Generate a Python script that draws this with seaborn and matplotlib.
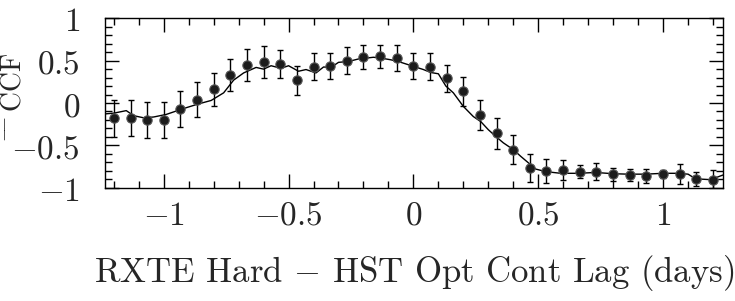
import matplotlib
matplotlib.use("Agg")
import matplotlib.pyplot as plt
from matplotlib.ticker import MultipleLocator, FuncFormatter
import pandas as pd
import seaborn as sns

# CCF points
lag = [-1.200, -1.133, -1.067, -1.000, -0.933, -0.867, -0.800, -0.733, -0.667,
       -0.600, -0.533, -0.467, -0.400, -0.333, -0.267, -0.200, -0.133, -0.067,
       0.000, 0.067, 0.133, 0.200, 0.267, 0.333, 0.400, 0.467, 0.533, 0.600,
       0.667, 0.733, 0.800, 0.867, 0.933, 1.000, 1.067, 1.133, 1.200]
ccf = [-0.18, -0.18, -0.20, -0.20, -0.07, 0.04, 0.16, 0.33, 0.45,
       0.48, 0.46, 0.27, 0.43, 0.44, 0.50, 0.54, 0.55, 0.53,
       0.44, 0.43, 0.29, 0.14, -0.14, -0.36, -0.55, -0.77, -0.80, -0.79,
       -0.81, -0.81, -0.84, -0.85, -0.86, -0.84, -0.84, -0.90, -0.91]
ccf_err = [0.22, 0.215, 0.215, 0.21, 0.21, 0.21, 0.20, 0.19, 0.19,
           0.19, 0.16, 0.17, 0.155, 0.155, 0.16, 0.14, 0.14, 0.15,
           0.155, 0.155, 0.155, 0.17, 0.18, 0.18, 0.175, 0.165, 0.14, 0.115,
           0.075, 0.10, 0.075, 0.075, 0.08, 0.05, 0.12, 0.085, 0.12]

# interpolated curve
line_lag = [-1.24, -1.20, -1.15, -1.12, -1.08, -1.04, -0.99, -0.92, -0.86, -0.81,
            -0.76, -0.72, -0.68, -0.63, -0.60, -0.57, -0.53, -0.50, -0.46, -0.43,
            -0.39, -0.36, -0.33, -0.30, -0.26, -0.22, -0.19, -0.16, -0.13, -0.09,
            -0.05, 0.00, 0.04, 0.07, 0.10, 0.13, 0.16, 0.20, 0.24, 0.27,
            0.30, 0.33, 0.36, 0.40, 0.43, 0.47, 0.49, 0.53, 0.59, 0.66,
            0.73, 0.80, 0.86, 0.93, 1.00, 1.06, 1.10, 1.13, 1.19, 1.24]
line_ccf = [-0.13, -0.12, -0.09, -0.15, -0.175, -0.165, -0.135, -0.065, -0.01, 0.03,
            0.12, 0.27, 0.355, 0.42, 0.40, 0.44, 0.41, 0.44, 0.375, 0.395,
            0.355, 0.425, 0.42, 0.48, 0.49, 0.52, 0.53, 0.54, 0.53, 0.51,
            0.48, 0.433, 0.395, 0.36, 0.345, 0.20, 0.12, -0.04, -0.16, -0.22,
            -0.315, -0.395, -0.47, -0.55, -0.63, -0.73, -0.78, -0.81, -0.83, -0.83,
            -0.82, -0.835, -0.84, -0.84, -0.83, -0.83, -0.84, -0.895, -0.905, -0.85]

pts = pd.DataFrame({"lag": lag, "ccf": ccf, "err": ccf_err})
curve = pd.DataFrame({"lag": line_lag, "ccf": line_ccf})

sns.set_theme(style="ticks")
plt.rcParams["mathtext.fontset"] = "cm"
plt.rcParams["axes.unicode_minus"] = True

fig = plt.figure(figsize=(7.35, 3.01), dpi=100)
ax = fig.add_axes([0.1429, 0.3764, 0.8408, 0.5628])

sns.lineplot(data=curve, x="lag", y="ccf", ax=ax, color="black", lw=1.0,
             sort=False, estimator=None)
ax.errorbar(pts["lag"], pts["ccf"], yerr=pts["err"], fmt="none",
            ecolor="black", elinewidth=1.0, capsize=2, capthick=1.0, zorder=3)
sns.scatterplot(data=pts, x="lag", y="ccf", ax=ax, s=45, color="#1c1c1c",
                edgecolor="#555555", linewidth=0.8, zorder=4)

ax.set_xlim(-1.235, 1.24)
ax.set_ylim(-1, 1)
ax.xaxis.set_major_locator(MultipleLocator(0.5))
ax.xaxis.set_minor_locator(MultipleLocator(0.1))
ax.yaxis.set_major_locator(MultipleLocator(0.5))
ax.yaxis.set_minor_locator(MultipleLocator(0.1))
fmt = FuncFormatter(lambda v, p: "$%g$" % round(v, 2))
ax.xaxis.set_major_formatter(fmt)
ax.yaxis.set_major_formatter(fmt)

ax.tick_params(which="both", direction="in", top=True, right=True,
               color="black", width=1.0)
ax.tick_params(which="major", length=10, labelsize=24)
ax.tick_params(axis="x", which="major", pad=8)
ax.tick_params(axis="y", which="major", pad=18)
ax.tick_params(which="minor", length=5)
for s in ax.spines.values():
    s.set_color("black")
    s.set_linewidth(1.0)

ax.set_xlabel("RXTE Hard $-$ HST Opt Cont Lag (days)", family="cmr10",
              fontsize=25, labelpad=15)
ax.set_ylabel(r"$^{-\!\!\!-}$CCF", family="cmr10", fontsize=20)
ax.yaxis.set_label_coords(-0.127, 0.53)

fig.savefig("out.png", dpi=100)
